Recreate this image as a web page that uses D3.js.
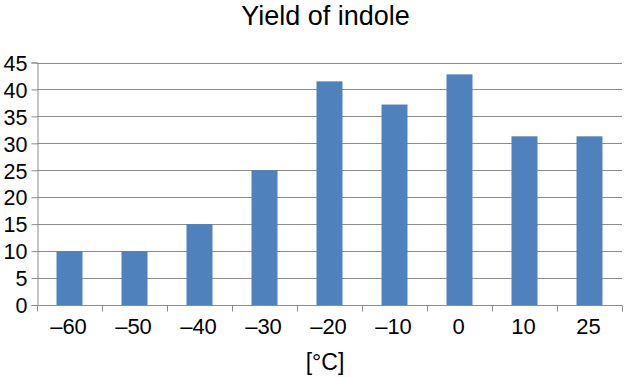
<!DOCTYPE html>
<html>
<head>
<meta charset="utf-8">
<script src="https://cdn.jsdelivr.net/npm/d3@7"></script>
<style>
  body { margin: 0; background: #fff; }
  text { font-family: "Liberation Sans", Arial, sans-serif; fill: #000; }
</style>
</head>
<body>
<svg id="chart" width="625" height="377"></svg>
<script>
// data
var temps = ["–60", "–50", "–40", "–30", "–20", "–10", "0", "10", "25"];
var yields = [10, 10, 15, 25, 41.5, 37.2, 42.8, 31.3, 31.3];
var yTicks = [0, 5, 10, 15, 20, 25, 30, 35, 40, 45];

var W = 625, H = 377;
var margin = {left: 37, right: 3, top: 62.5, bottom: 72};
var svg = d3.select("#chart");

var xb = d3.scaleBand().domain(temps).range([margin.left, W - margin.right]);
var y = d3.scaleLinear().domain([0, 45]).range([H - margin.bottom, margin.top]);

// gridlines
svg.append("g").selectAll("line")
    .data(yTicks.slice(1))
    .enter().append("line")
    .attr("x1", margin.left).attr("x2", W - margin.right)
    .attr("y1", function (d) { return Math.round(y(d)) + 0.5; })
    .attr("y2", function (d) { return Math.round(y(d)) + 0.5; })
    .attr("stroke", "#8c8c8c").attr("stroke-width", 1);

// bars, 40% of the category width (gap width 150%)
svg.append("g").selectAll("rect")
    .data(yields)
    .enter().append("rect")
    .attr("x", function (d, i) { return xb(temps[i]) + xb.bandwidth() * 0.3; })
    .attr("width", xb.bandwidth() * 0.4)
    .attr("y", function (d) { return y(d); })
    .attr("height", function (d) { return y(0) - y(d); })
    .attr("fill", "#4f81bd");

// y axis
var yAxis = svg.append("g")
    .attr("transform", "translate(" + (margin.left + 0.5) + ",0)")
    .call(d3.axisLeft(y).tickValues(yTicks).tickSize(6).tickPadding(4));
yAxis.select(".domain").attr("stroke", "#8c8c8c");
yAxis.selectAll(".tick line").attr("stroke", "#8c8c8c");
yAxis.selectAll(".tick text").style("font-size", "21.5px").attr("dy", "0.36em");

// x axis: ticks sit on the category boundaries
var xAxis = svg.append("g")
    .attr("transform", "translate(0," + (Math.round(y(0)) + 0.5) + ")");
xAxis.append("line")
    .attr("x1", margin.left).attr("x2", W - margin.right)
    .attr("stroke", "#8c8c8c");
xAxis.selectAll(".tk")
    .data(temps.concat(["end"]))
    .enter().append("line")
    .attr("class", "tk")
    .attr("x1", function (d, i) { return Math.round(margin.left + i * xb.step()) + 0.5; })
    .attr("x2", function (d, i) { return Math.round(margin.left + i * xb.step()) + 0.5; })
    .attr("y1", 0).attr("y2", 6)
    .attr("stroke", "#8c8c8c");
xAxis.selectAll(".lbl")
    .data(temps)
    .enter().append("text")
    .attr("class", "lbl")
    .attr("x", function (d) { return xb(d) + xb.bandwidth() / 2 - 1; })
    .attr("y", 28)
    .attr("text-anchor", "middle")
    .style("font-size", "22px")
    .text(function (d) { return d; });

// title and axis label
svg.append("text")
    .attr("x", 325.5).attr("y", 25)
    .attr("text-anchor", "middle")
    .style("font-size", "27px")
    .text("Yield of indole");

svg.append("text")
    .attr("x", 325).attr("y", 370)
    .attr("text-anchor", "middle")
    .style("font-size", "23px")
    .text("[°C]");
</script>
</body>
</html>
